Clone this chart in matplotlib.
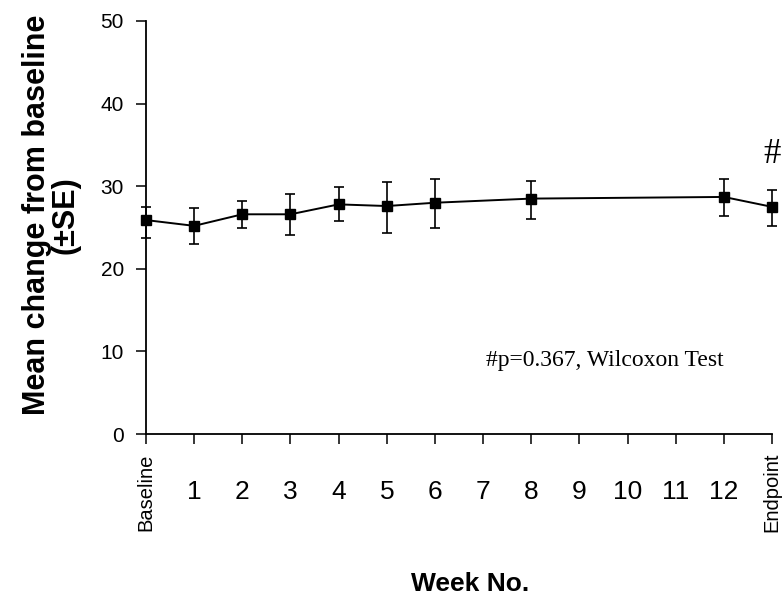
import matplotlib
matplotlib.use("Agg")
import matplotlib.pyplot as plt
import numpy as np

tick_labels = ["Baseline", "1", "2", "3", "4", "5", "6", "7", "8", "9", "10", "11", "12", "Endpoint"]
weeks = ["Baseline", "1", "2", "3", "4", "5", "6", "8", "12", "Endpoint"]
means = [25.9, 25.2, 26.6, 26.6, 27.8, 27.6, 28.0, 28.5, 28.7, 27.5]
err_upper = [27.5, 27.4, 28.2, 29.0, 29.9, 30.5, 30.9, 30.6, 30.9, 29.5]
err_lower = [23.7, 23.0, 24.9, 24.1, 25.8, 24.3, 24.9, 26.0, 26.4, 25.2]

x_pos = [tick_labels.index(w) for w in weeks]
means_a = np.array(means)
yerr = np.array([means_a - np.array(err_lower), np.array(err_upper) - means_a])

fig = plt.figure(figsize=(7.83, 6.05), dpi=100)
ax = fig.add_axes([0.1865, 0.2826, 0.986 - 0.1865, 0.9653 - 0.2826])

ax.errorbar(x_pos, means, yerr=yerr, color="black", marker="s", markersize=6.5,
            linewidth=1.4, elinewidth=1.2, capsize=3.5, capthick=1.2, clip_on=False)

ax.set_xlim(0, 13)
ax.set_ylim(0, 50)
ax.set_yticks([0, 10, 20, 30, 40, 50])
ax.set_xticks(range(len(tick_labels)))
ax.set_xticklabels(tick_labels)
for lab in ax.get_xticklabels():
    lab.set_family("Liberation Sans")
    lab.set_va("center")
    if lab.get_text() in ("Baseline", "Endpoint"):
        lab.set_rotation(90)
        lab.set_fontsize(14.5)
    else:
        lab.set_fontsize(19)
for lab in ax.get_yticklabels():
    lab.set_fontsize(15)
    lab.set_family("Liberation Sans")

ax.spines["top"].set_visible(False)
ax.spines["right"].set_visible(False)
ax.spines["left"].set_linewidth(1.3)
ax.spines["bottom"].set_linewidth(1.3)
ax.tick_params(axis="both", direction="out", length=7, width=1.1)
ax.tick_params(axis="x", pad=35)
ax.tick_params(axis="y", pad=9)

ax.set_ylabel("Mean change from baseline\n(±SE)", fontsize=22, fontweight="bold",
              family="Liberation Sans", labelpad=14, linespacing=0.95)
ax.yaxis.label.set_y(0.53)
fig.text(0.6, 0.035, "Week No.", fontsize=19, fontweight="bold",
         family="Liberation Sans", ha="center", va="center")

ax.text(9.53, 8.96, "#p=0.367, Wilcoxon Test", fontsize=17, family="Liberation Serif",
        ha="center", va="center")
ax.text(13, 33.8, "#", fontsize=25, family="Liberation Serif", ha="center", va="center")

fig.savefig("out.png", dpi=100)
